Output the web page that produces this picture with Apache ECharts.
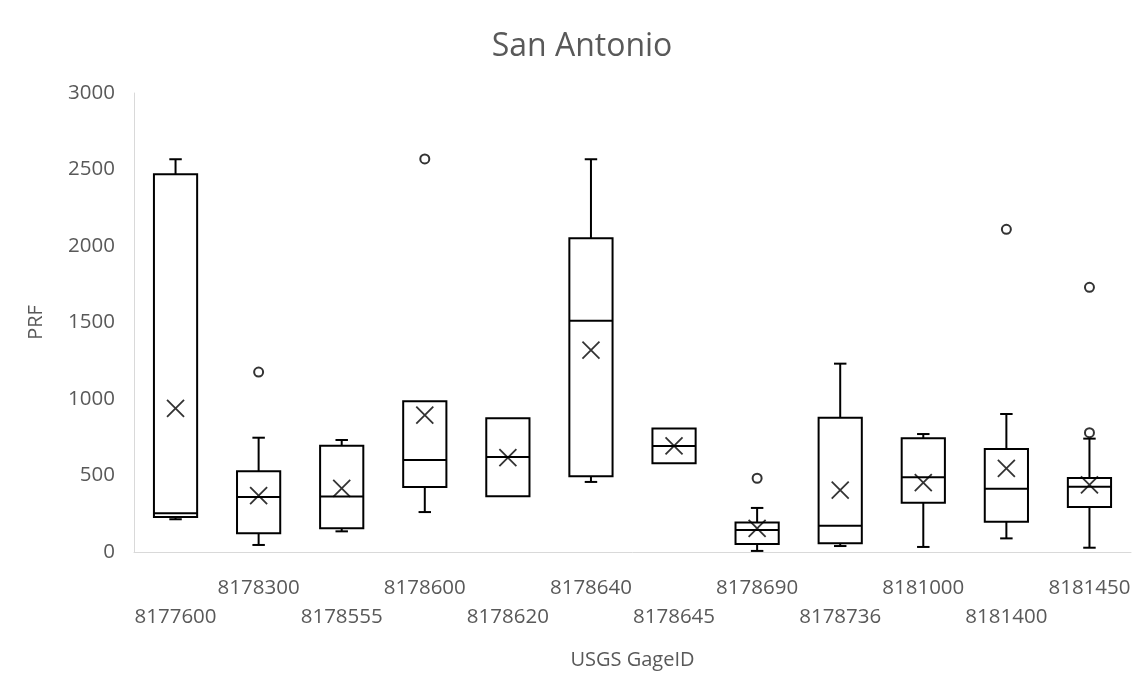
<!DOCTYPE html>
<html>
<head>
<meta charset="utf-8">
<script src="https://cdn.jsdelivr.net/npm/echarts@6/dist/echarts.min.js"></script>
<style>html,body{margin:0;padding:0;background:#fff;}#c{width:1144px;height:685px;}</style>
</head>
<body>
<div id="c"></div>
<script>
var categories = ['8177600','8178300','8178555','8178600','8178620','8178640','8178645','8178690','8178736','8181000','8181400','8181450'];
var whiskerLow  = [214, 46, 135, 261, 364, 458, 580, 7, 39, 33, 89, 28];
var q1          = [229, 122, 155, 425, 364, 495, 580, 52, 57, 322, 198, 294];
var median      = [253, 359, 362, 601, 621, 1512, 693, 144, 172, 488, 414, 427];
var q3          = [2469, 527, 695, 985, 874, 2050, 808, 192, 878, 743, 673, 484];
var whiskerHigh = [2567, 747, 732, 985, 874, 2567, 808, 288, 1231, 771, 902, 741];
var means       = [939, 368, 416, 895, 617, 1320, 693, 155, 405, 453, 547, 438];
var outlierCat  = [1, 3, 7, 10, 11, 11];
var outlierVal  = [1176, 2569, 482, 2109, 1730, 780];
var yTicks = [0, 500, 1000, 1500, 2000, 2500, 3000];

var FONT = '"Open Sans", "Noto Sans", sans-serif';
var GREY = '#595959';

var boxData = categories.map(function (c, i) {
  return [i, whiskerLow[i], q1[i], median[i], q3[i], whiskerHigh[i]];
});
var meanData = means.map(function (v, i) { return [i, v]; });
var outlierData = outlierVal.map(function (v, i) { return [outlierCat[i], v]; });

var chart = echarts.init(document.getElementById('c'), null, {renderer: 'canvas'});
chart.setOption({
  backgroundColor: '#fff',
  animation: false,
  title: {
    text: 'San Antonio', left: 577, textAlign: 'center', top: 26,
    textStyle: {fontFamily: FONT, fontSize: 32, fontWeight: 'normal', color: GREY}
  },
  grid: {left: 134, right: 13, top: 93, bottom: 133},
  xAxis: {
    type: 'category', data: categories,
    name: 'USGS GageID', nameLocation: 'middle', nameGap: 98,
    nameTextStyle: {fontFamily: FONT, fontSize: 20, color: GREY},
    axisLine: {show: true, lineStyle: {color: '#d9d9d9', width: 1}},
    axisTick: {show: false},
    axisLabel: {
      interval: 0, margin: 21, fontFamily: FONT, fontSize: 20.5, color: GREY, lineHeight: 29.5,
      formatter: function (v, idx) { return idx % 2 === 0 ? '\n' + v : v; }
    },
    splitLine: {show: false}
  },
  yAxis: {
    type: 'value', min: yTicks[0], max: yTicks[yTicks.length - 1], interval: 500,
    name: 'PRF', nameLocation: 'middle', nameGap: 88, nameRotate: 90,
    nameTextStyle: {fontFamily: FONT, fontSize: 20, color: GREY},
    axisLine: {show: true, lineStyle: {color: '#d9d9d9', width: 1}},
    axisTick: {show: false},
    axisLabel: {margin: 19, fontFamily: FONT, fontSize: 20.5, color: GREY,
      formatter: function (v) { return String(v); }},
    splitLine: {show: false}
  },
  series: [
    {
      type: 'custom',
      data: boxData,
      encode: {x: 0, y: [1, 2, 3, 4, 5]},
      renderItem: function (params, api) {
        var x = api.value(0);
        var pLow = api.coord([x, api.value(1)]);
        var pQ1 = api.coord([x, api.value(2)]);
        var pMed = api.coord([x, api.value(3)]);
        var pQ3 = api.coord([x, api.value(4)]);
        var pHigh = api.coord([x, api.value(5)]);
        var band = api.size([1, 0])[0];
        var w = band * 0.52;
        var cap = band * 0.15;
        var cx = pQ1[0];
        var st = {stroke: '#000', lineWidth: 2, fill: null};
        var children = [
          {type: 'rect', shape: {x: cx - w / 2, y: pQ3[1], width: w, height: pQ1[1] - pQ3[1]}, style: {stroke: '#000', lineWidth: 2, fill: '#fff'}},
          {type: 'line', shape: {x1: cx - w / 2, y1: pMed[1], x2: cx + w / 2, y2: pMed[1]}, style: st}
        ];
        if (pHigh[1] < pQ3[1] - 0.5) {
          children.push({type: 'line', shape: {x1: cx, y1: pQ3[1], x2: cx, y2: pHigh[1]}, style: st});
          children.push({type: 'line', shape: {x1: cx - cap / 2, y1: pHigh[1], x2: cx + cap / 2, y2: pHigh[1]}, style: st});
        }
        if (pLow[1] > pQ1[1] + 0.5) {
          children.push({type: 'line', shape: {x1: cx, y1: pQ1[1], x2: cx, y2: pLow[1]}, style: st});
          children.push({type: 'line', shape: {x1: cx - cap / 2, y1: pLow[1], x2: cx + cap / 2, y2: pLow[1]}, style: st});
        }
        return {type: 'group', children: children};
      },
      z: 2
    },
    {
      type: 'scatter',
      data: meanData,
      symbol: 'path://M0,0L10,10M10,0L0,10',
      symbolSize: 17,
      itemStyle: {color: 'none', borderColor: '#000', borderWidth: 1.8},
      z: 3
    },
    {
      type: 'scatter',
      data: outlierData,
      symbol: 'circle',
      symbolSize: 9,
      itemStyle: {color: '#fff', borderColor: '#000', borderWidth: 2},
      z: 3
    }
  ]
});
</script>
</body>
</html>
